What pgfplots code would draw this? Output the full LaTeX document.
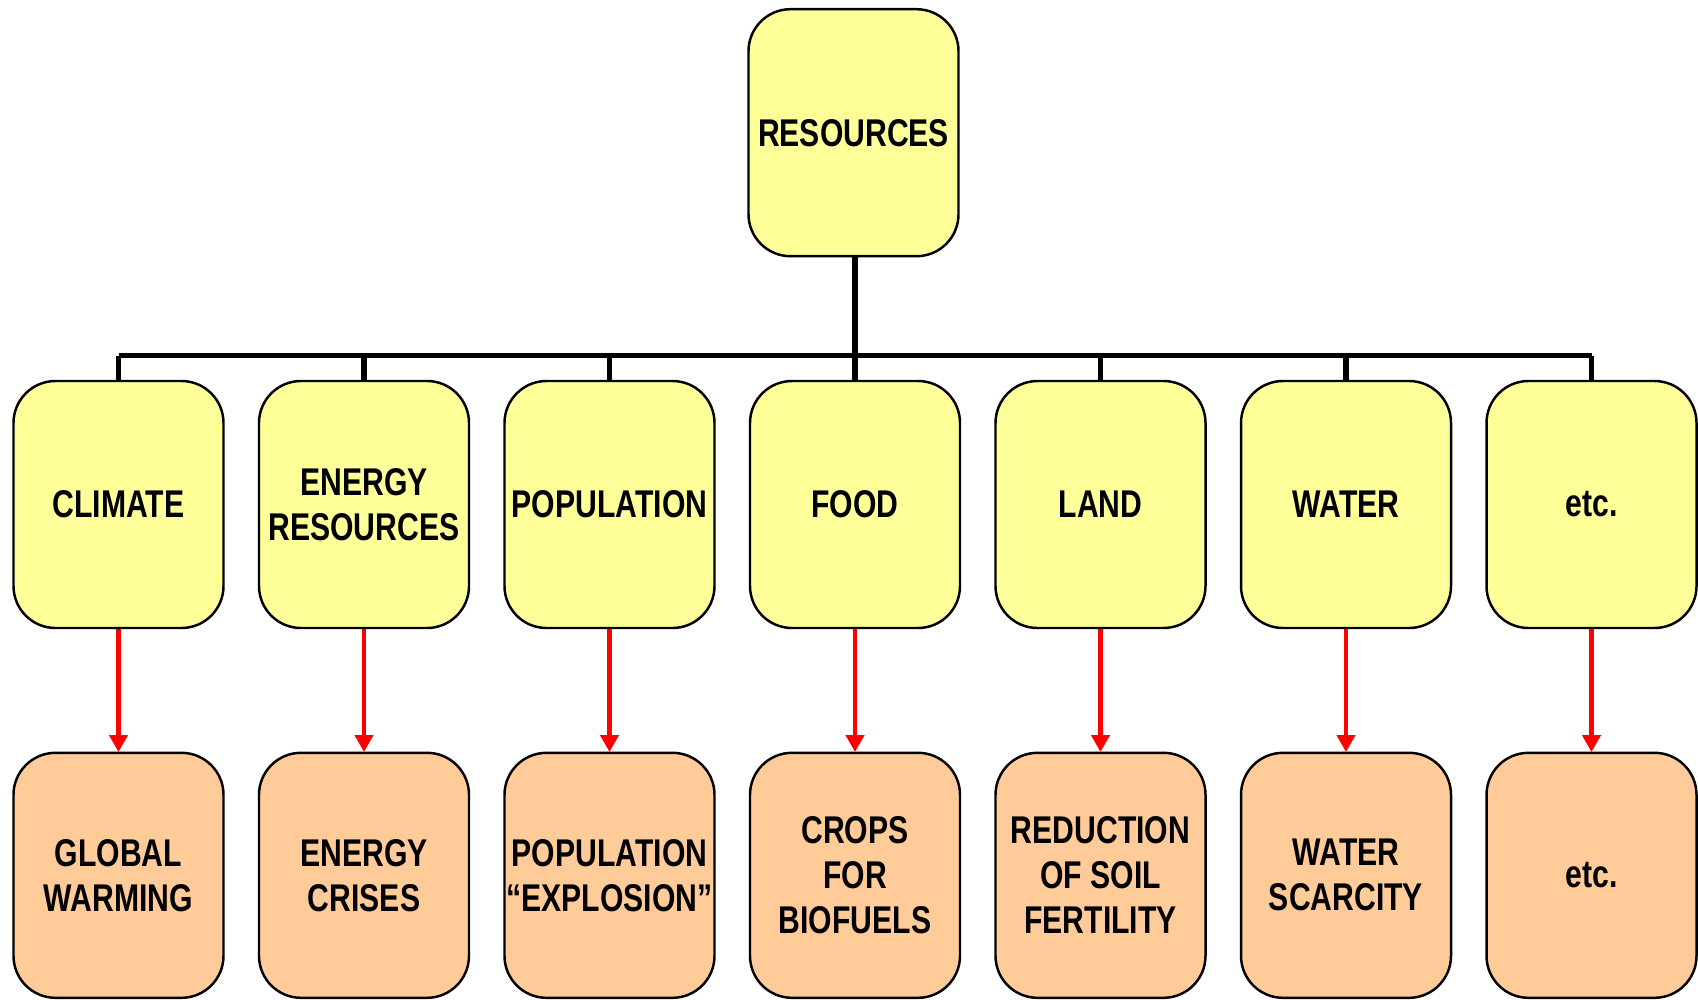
\documentclass[border=0pt]{standalone}
\usepackage{fontspec}
\setmainfont{Liberation Sans}[FakeStretch=0.78]
\usepackage{pgfplots}
\pgfplotsset{compat=1.18}
\usetikzlibrary{arrows.meta}
\definecolor{boxyellow}{HTML}{FFFF99}
\definecolor{boxorange}{HTML}{FFCC99}
\definecolor{arrowred}{HTML}{FF0000}

\pgfplotsset{
  box/.style={
    draw=none, mark=none,
    point meta=explicit symbolic,
    nodes near coords,
    every node near coord/.append style={
      anchor=center, draw=black, line width=0.7pt, fill=#1, text=black,
      rounded corners=0.42cm, minimum width=2.1cm, minimum height=2.47cm,
      inner sep=0pt, align=center,
      font=\fontsize{11}{12.8}\selectfont\bfseries}
  }
}

\begin{document}
\begin{tikzpicture}
\begin{axis}[
    width=16.98cm, height=9.99cm, scale only axis,
    xmin=0, xmax=1698, ymin=0, ymax=999, y dir=reverse,
    axis line style={draw=none}, xtick=\empty, ytick=\empty,
    clip=false
]
% tree connectors
\addplot[black, line width=1.7pt] coordinates {(855,256) (855,381)};
\addplot[black, line width=1.7pt] coordinates {(118.5,355.5) (1591.5,355.5)};
\addplot[black, line width=1.5pt, unbounded coords=jump] coordinates {
  (118.5,355.5) (118.5,381) (nan,nan)
  (364,355.5) (364,381) (nan,nan)
  (609.5,355.5) (609.5,381) (nan,nan)
  (1100.5,355.5) (1100.5,381) (nan,nan)
  (1346,355.5) (1346,381) (nan,nan)
  (1591.5,355.5) (1591.5,381)
};
% red arrows
\addplot[arrowred, mark=none,
  quiver={u=0, v=123.5,
    every arrow/.append style={line width=1.4pt,
      -{Triangle[length=0.17cm, width=0.18cm]}}}] coordinates {
  (118.5,628.5) (364,628.5) (609.5,628.5) (855,628.5)
  (1100.5,628.5) (1346,628.5) (1591.5,628.5)
};
% boxes
\addplot[box=boxyellow] coordinates {(853.5,132.7) [RESOURCES]};
\addplot[box=boxyellow] coordinates {
  (118.5,504.5) [CLIMATE]
  (364,504.5) [ENERGY\\RESOURCES]
  (609.5,504.5) [POPULATION]
  (855,504.5) [FOOD]
  (1100.5,504.5) [LAND]
  (1346,504.5) [WATER]
  (1591.5,504.5) [etc.]
};
\addplot[box=boxorange, every node near coord/.append style={minimum height=2.45cm}] coordinates {
  (118.5,875.3) [GLOBAL\\WARMING]
  (364,875.3) [ENERGY\\CRISES]
  (609.5,875.3) [POPULATION\\“EXPLOSION”]
  (855,875.3) [CROPS\\FOR\\BIOFUELS]
  (1100.5,875.3) [REDUCTION\\OF SOIL\\FERTILITY]
  (1346,875.3) [WATER\\SCARCITY]
  (1591.5,875.3) [etc.]
};
\end{axis}
\end{tikzpicture}
\end{document}
